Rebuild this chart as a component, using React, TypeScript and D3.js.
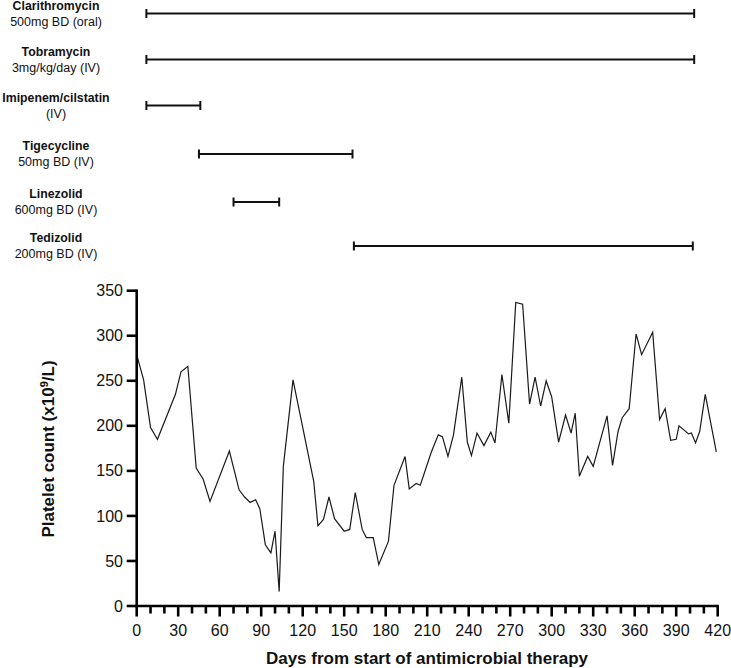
import React from "react";
import * as d3 from "d3";

const drugNames = ["Clarithromycin", "Tobramycin", "Imipenem/cilstatin", "Tigecycline", "Linezolid", "Tedizolid"];
const drugDoses = ["500mg BD (oral)", "3mg/kg/day (IV)", "(IV)", "50mg BD (IV)", "600mg BD (IV)", "200mg BD (IV)"];
const drugStart = [7, 7, 7, 45, 70, 157];
const drugEnd = [403, 403, 46, 156, 103, 402];

const days = [0, 5, 10, 15, 28, 32, 37, 43, 48, 53, 67, 74, 78, 82, 86, 89, 93, 97, 100, 103, 106, 113, 128, 131, 135, 139, 143, 150, 154, 158, 163, 166, 171, 175, 182, 186, 194, 197, 202, 205, 213, 218, 221, 225, 229, 235, 239, 242, 246, 251, 256, 259, 264, 269, 274, 279, 284, 288, 292, 296, 300, 305, 310, 314, 317, 320, 326, 330, 340, 344, 348, 351, 356, 361, 365, 373, 378, 382, 386, 390, 392, 399, 401, 404, 407, 411, 415, 419];
const platelets = [279, 251, 198, 185, 235, 260, 266, 153, 141, 116, 172, 129, 121, 115, 118, 108, 68, 59, 83, 16, 155, 251, 138, 89, 96, 121, 97, 83, 85, 126, 85, 76, 76, 46, 72, 134, 166, 130, 136, 134, 171, 190, 188, 166, 190, 254, 182, 167, 192, 178, 193, 181, 257, 203, 337, 335, 224, 254, 222, 250, 232, 182, 212, 192, 214, 144, 166, 155, 211, 156, 194, 209, 219, 302, 279, 304, 207, 219, 184, 185, 200, 191, 192, 181, 194, 235, 203, 171];

const xTickValues = [0, 30, 60, 90, 120, 150, 180, 210, 240, 270, 300, 330, 360, 390, 420];
const yTickValues = [0, 50, 100, 150, 200, 250, 300, 350];

const FONT = "'Liberation Sans', Arial, Helvetica, sans-serif";

export default function App() {
  const x = d3.scaleLinear().domain([0, 420]).range([136.7, 717.7]);
  const y = d3.scaleLinear().domain([0, 350]).range([606, 290.7]);
  const minorTicks = d3.range(0, 421, 10).filter((d) => d % 30 !== 0);
  const line = d3
    .line<number>()
    .x((d, i) => x(days[i]))
    .y((d) => y(d));
  const rowY = [13.5, 59.5, 105.5, 154, 202, 246];

  return (
    <svg
      width={731}
      height={668}
      style={{ position: "absolute", left: 0, top: 0, background: "#fff" }}
      fontFamily={FONT}
    >
      <rect x={0} y={0} width={731} height={668} fill="#fff" />
      {/* treatment timeline */}
      {drugNames.map((name, i) => {
        const cy = rowY[i];
        const x0 = x(drugStart[i]);
        const x1 = x(drugEnd[i]);
        return (
          <g key={name}>
            <text x={56} y={cy - 4} textAnchor="middle" fontSize={12.3} fontWeight="bold" fill="#111">
              {name}
            </text>
            <text x={56} y={cy + 12} textAnchor="middle" fontSize={12.5} fill="#111">
              {drugDoses[i]}
            </text>
            <line x1={x0} x2={x1} y1={cy} y2={cy} stroke="#111" strokeWidth={2} />
            <line x1={x0} x2={x0} y1={cy - 4.5} y2={cy + 4.5} stroke="#111" strokeWidth={2} />
            <line x1={x1} x2={x1} y1={cy - 4.5} y2={cy + 4.5} stroke="#111" strokeWidth={2} />
          </g>
        );
      })}

      {/* data line */}
      <path d={line(platelets) || ""} fill="none" stroke="#1a1a1a" strokeWidth={1.2} strokeLinejoin="miter" />

      {/* y axis */}
      <line x1={x(0)} x2={x(0)} y1={y(350) - 1.2} y2={y(0) + 1.2} stroke="#000" strokeWidth={2.6} />
      {yTickValues.map((v) => (
        <g key={"y" + v}>
          <line x1={x(0) - 10} x2={x(0)} y1={y(v)} y2={y(v)} stroke="#000" strokeWidth={2.6} />
          <text x={123} y={y(v)} dy="0.35em" textAnchor="end" fontSize={16} fill="#111">
            {v}
          </text>
        </g>
      ))}

      {/* x axis */}
      <line x1={x(0) - 1.2} x2={x(420) + 1.2} y1={y(0)} y2={y(0)} stroke="#000" strokeWidth={2.6} />
      {xTickValues.map((v) => (
        <g key={"x" + v}>
          <line x1={x(v)} x2={x(v)} y1={y(0)} y2={y(0) + 10.5} stroke="#000" strokeWidth={2.6} />
          <text x={x(v)} y={630} dy="0.35em" textAnchor="middle" fontSize={16} fill="#111">
            {v}
          </text>
        </g>
      ))}
      {minorTicks.map((v) => (
        <line key={"m" + v} x1={x(v)} x2={x(v)} y1={y(0)} y2={y(0) + 7.5} stroke="#000" strokeWidth={2.6} />
      ))}

      {/* axis titles */}
      <text x={427} y={664} textAnchor="middle" fontSize={17} fontWeight="bold" fill="#111">
        Days from start of antimicrobial therapy
      </text>
      <text
        transform={`translate(54, 449) rotate(-90)`}
        textAnchor="middle"
        fontSize={17}
        fontWeight="bold"
        fill="#111"
      >
        Platelet count (x10
        <tspan dy={-6} fontSize={11}>9</tspan>
        <tspan dy={6}>/L)</tspan>
      </text>
    </svg>
  );
}
